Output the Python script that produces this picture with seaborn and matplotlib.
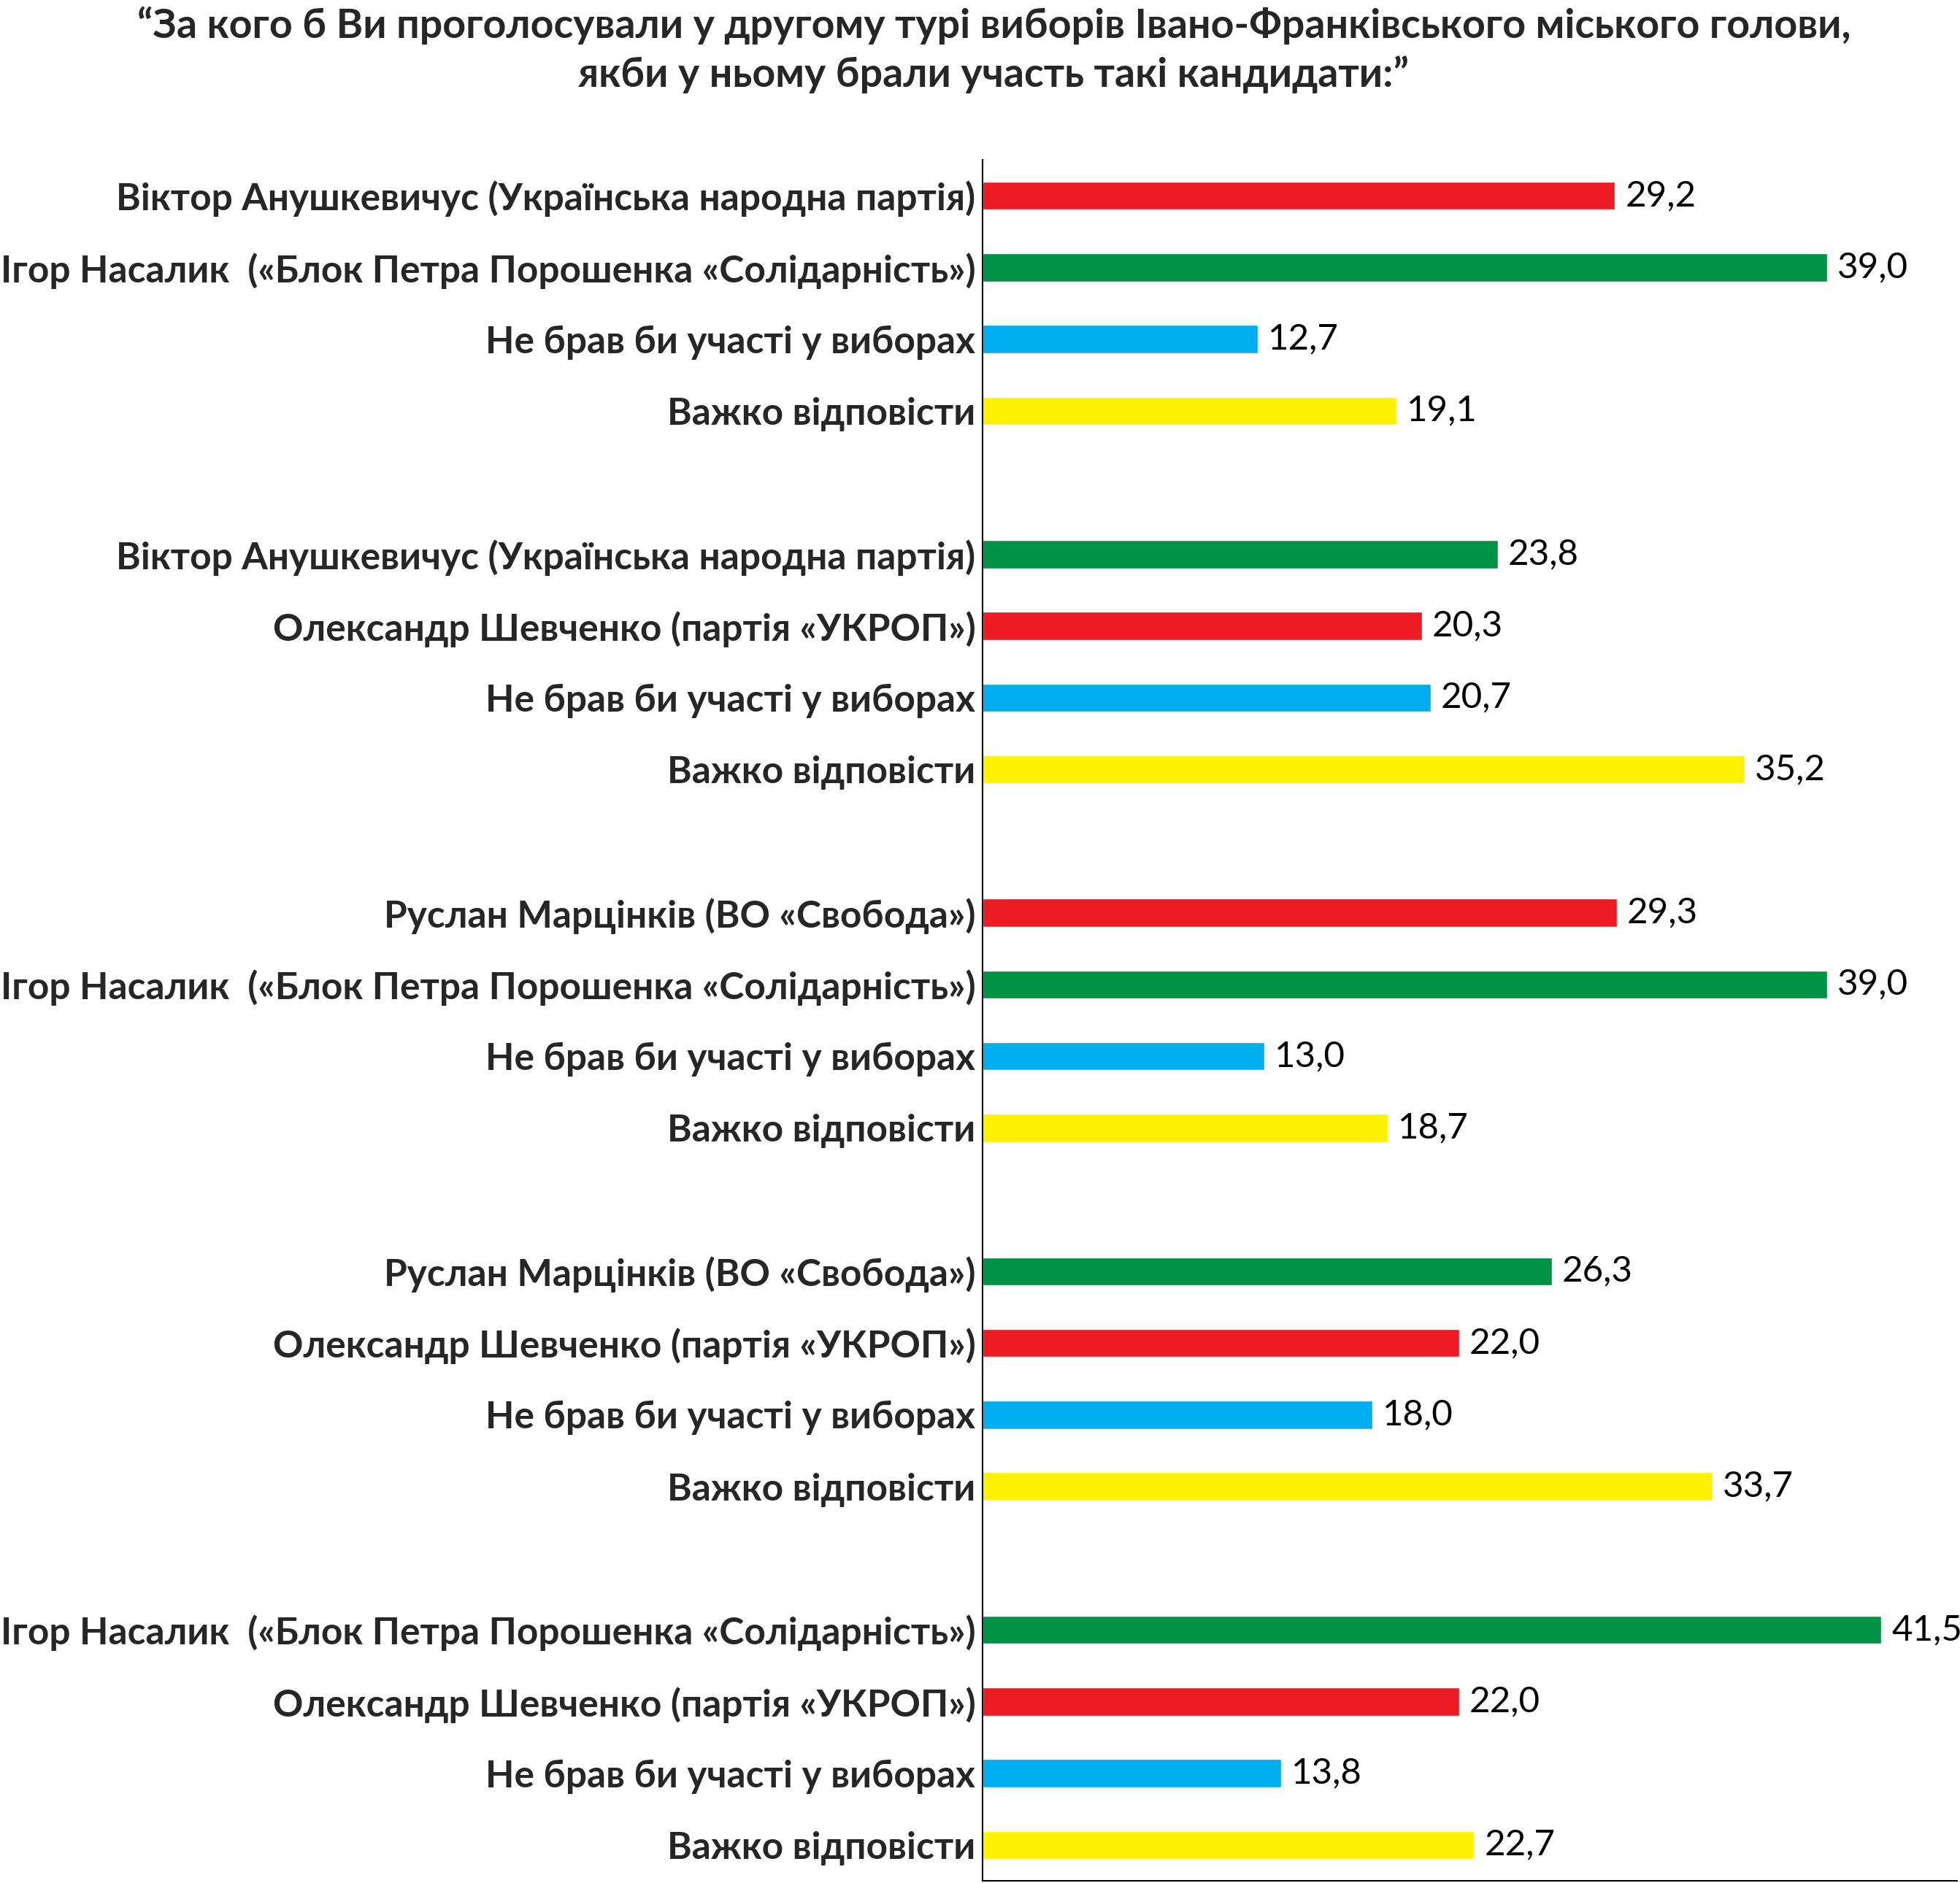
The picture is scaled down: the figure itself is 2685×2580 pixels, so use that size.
import pandas as pd
import seaborn as sns
import matplotlib.pyplot as plt

TITLE = ("“За кого б Ви проголосували у другому турі виборів Івано-Франківського міського голови,\n"
         "якби у ньому брали участь такі кандидати:”")

ANUSHKEVYCHUS = "Віктор Анушкевичус (Українська народна партія)"
NASALYK = "Ігор Насалик  («Блок Петра Порошенка «Солідарність»)"
SHEVCHENKO = "Олександр Шевченко (партія «УКРОП»)"
MARTSINKIV = "Руслан Марцінків (ВО «Свобода»)"
ABSTAIN = "Не брав би участі у виборах"
UNDECIDED = "Важко відповісти"

# one entry per pairing (second round scenario)
candidate_a = [ANUSHKEVYCHUS, ANUSHKEVYCHUS, MARTSINKIV, MARTSINKIV, NASALYK]
candidate_b = [NASALYK, SHEVCHENKO, NASALYK, SHEVCHENKO, SHEVCHENKO]
score_a = [29.2, 23.8, 29.3, 26.3, 41.5]
score_b = [39.0, 20.3, 39.0, 22.0, 22.0]
abstain = [12.7, 20.7, 13.0, 18.0, 13.8]
undecided = [19.1, 35.2, 18.7, 33.7, 22.7]

palette = {
    "leader": "#009245",
    "runner-up": "#ED1C24",
    "abstain": "#00AEEF",
    "undecided": "#FFF200",
}

rows = []
for g in range(len(candidate_a)):
    a_leads = score_a[g] > score_b[g]
    entries = [
        (candidate_a[g], score_a[g], "leader" if a_leads else "runner-up"),
        (candidate_b[g], score_b[g], "runner-up" if a_leads else "leader"),
        (ABSTAIN, abstain[g], "abstain"),
        (UNDECIDED, undecided[g], "undecided"),
    ]
    for k, (label, value, role) in enumerate(entries):
        # blank slot between pairings
        rows.append({"pos": g * 5 + k, "label": label, "value": value, "role": role})
df = pd.DataFrame(rows)

sns.set_style("white")
plt.rcParams["font.family"] = ["Lato", "DejaVu Sans"]

W, H = 2685, 2580
fig = plt.figure(figsize=(W / 100, H / 100), dpi=100)
ax = fig.add_axes([1346 / W, 3 / H, (2681 - 1346) / W, (2577 - 219) / H])

sns.barplot(
    data=df, x="value", y="pos",
    hue="role", palette=palette,
    orient="h", native_scale=True, dodge=False,
    width=0.39, saturation=1, legend=False,
    ax=ax,
)

for cont in ax.containers:
    ax.bar_label(
        cont,
        labels=[f"{v:.1f}".replace(".", ",") for v in cont.datavalues],
        padding=10, fontsize=35.5, color="black",
    )

ax.set_xlim(0, 45.0)
ax.set_ylim(df.pos.max() + 0.5, -0.5)
ax.set_xticks([])
ax.set_yticks(df.pos)
ax.set_yticklabels(df.label, fontweight="bold", fontsize=37)
ax.tick_params(axis="y", length=0, pad=7)
ax.set_xlabel("")
ax.set_ylabel("")

for side in ["top", "right"]:
    ax.spines[side].set_visible(False)
for side in ["left", "bottom"]:
    ax.spines[side].set_color("black")
    ax.spines[side].set_linewidth(1.5)

fig.text(0.507, 1 - 68 / H, TITLE, ha="center", va="center",
         fontsize=40, fontweight="bold", linespacing=1.35)

fig.savefig("out.png", dpi=100, facecolor="white")
